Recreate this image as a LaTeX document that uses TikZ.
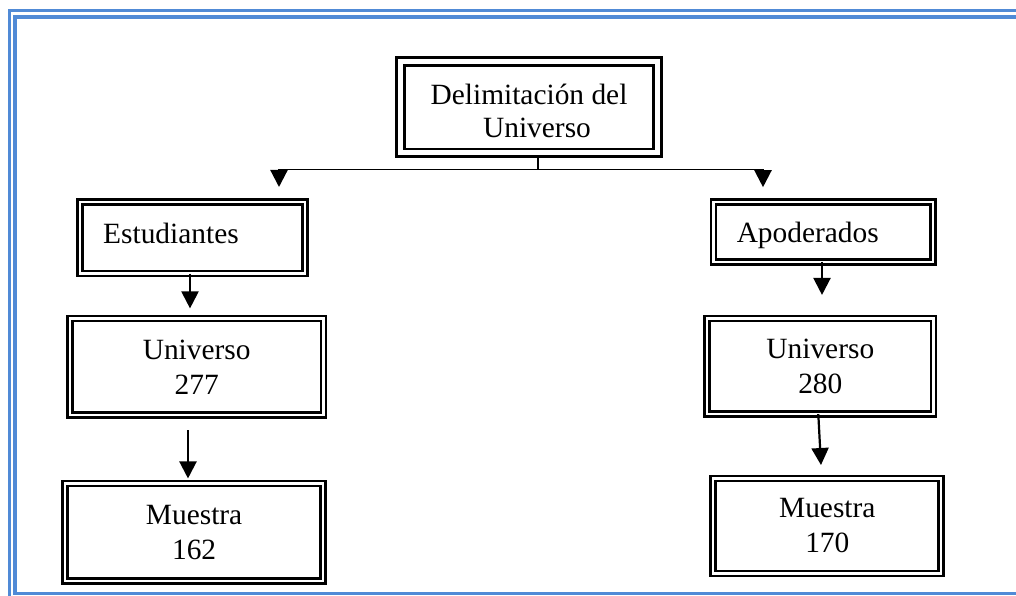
\documentclass[tikz,border=0pt]{standalone}
\usepackage{fontspec}
\setmainfont{Liberation Serif}
\usetikzlibrary{arrows.meta,calc}
\definecolor{frameblue}{RGB}{80,138,214}
\begin{document}
\begin{tikzpicture}[x=1pt,y=-1pt,
  box/.style={draw, double, line width=2.8pt, double distance=2.2pt, align=center,
    inner sep=0pt, outer sep=0pt, font=\fontsize{29.4}{35}\selectfont},
  conn/.style={line width=2.2pt},
  hline/.style={line width=1.6pt},
  arr/.style={line width=2.2pt, -{Triangle[length=17pt,width=17pt]}},
  frameline/.style={draw=frameblue, line width=3.2pt}]
\useasboundingbox (0,0) rectangle (1016,596);
\clip (0,0) rectangle (1016,596);
\fill[white] (0,0) rectangle (1016,596);
% page frame
\draw[frameline] (9.5,610) -- (9.5,10.5) -- (1030,10.5);
\draw[frameline] (1030,17) -- (15,17) -- (15,593.3) -- (1030,593.3);
% boxes
\node[box, double distance=5pt, minimum width=257pt, minimum height=91.3pt,
  font=\fontsize{29.4}{33}\selectfont] (top) at (529,107.3)
  {\rule{0pt}{27pt}Delimitación del\\\hspace*{16pt}Universo};
\node[box, text width=178.8pt, align=left, inner xsep=23pt, minimum width=224.8pt,
  minimum height=71.5pt, text height=20pt, text depth=9pt] (est) at (192.6,237.75) {Estudiantes};
\node[box, text width=173.3pt, align=left, inner xsep=23.2pt, minimum width=219.7pt,
  minimum height=59.6pt, text height=20pt, text depth=0pt] (apod) at (823.4,232) {Apoderados};
\node[box, minimum width=253.7pt, minimum height=96.8pt] (uni1) at (196.7,366.8) {Universo\\277};
\node[box, minimum width=257.8pt, minimum height=97.5pt] (mu1) at (194.1,532.2) {Muestra\\162};
\node[box, minimum width=226.3pt, minimum height=95.7pt] (uni2) at (820.3,366.3) {Universo\\280};
\node[box, minimum width=228.1pt, minimum height=95pt] (mu2) at (827.3,526) {Muestra\\170};
% connectors
\coordinate (hj) at (538,169.5);
\coordinate (hl) at (279,169.5);
\coordinate (hr) at (763,169.5);
\draw[conn, shorten <=4pt] (top.south -| hj) -- (hj);
\draw[hline] (hl) -- (hr);
\draw[arr, shorten >=15pt] (hl) -- (hl |- est.north);
\draw[arr, shorten >=15pt] (hr) -- (hr |- apod.north);
\coordinate (c1) at (190,0);
\coordinate (c2) at (188,0);
\coordinate (c3) at (822,0);
\coordinate (c4) at (818.3,0);
\coordinate (c5) at (821.7,0);
\draw[arr, shorten >=10pt] (est.south -| c1) -- (uni1.north -| c1);
\draw[arr, shorten <=15pt, shorten >=5pt] (uni1.south -| c2) -- (mu1.north -| c2);
\draw[arr, shorten >=23.5pt] (apod.south -| c3) -- (uni2.north -| c3);
\draw[arr, shorten >=13.5pt] (uni2.south -| c4) -- (mu2.north -| c5);
\end{tikzpicture}
\end{document}
